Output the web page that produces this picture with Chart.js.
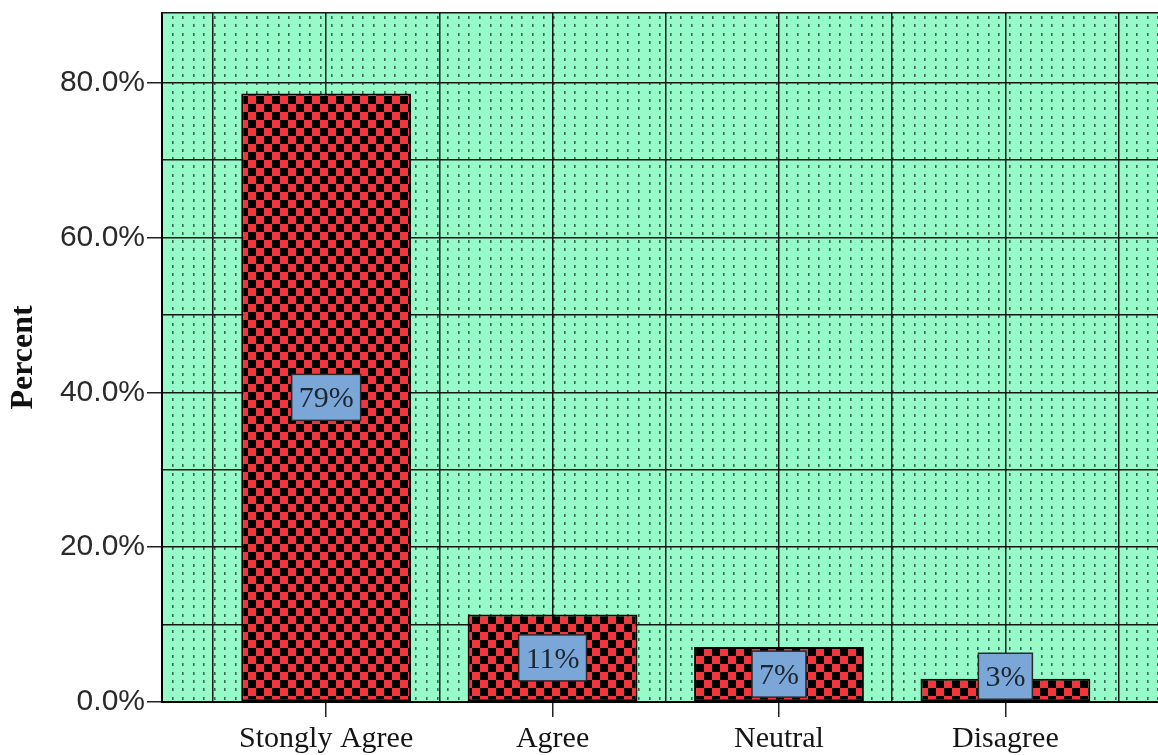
<!DOCTYPE html>
<html>
<head>
<meta charset="utf-8">
<script src="https://cdn.jsdelivr.net/npm/chart.js@4/dist/chart.umd.min.js"></script>
<style>
  html, body { margin: 0; padding: 0; background: #fff; overflow: hidden; }
  #wrap { position: relative; width: 1158px; height: 755px; overflow: hidden; }
  #wrap canvas { position: absolute; left: 0; top: 0; }
</style>
</head>
<body>
<div id="wrap"><canvas id="chart" width="1182" height="755"></canvas></div>
<script>
// Survey responses, share of respondents per answer
const categories = ['Stongly Agree', 'Agree', 'Neutral', 'Disagree'];
const percents = [78.6, 11.3, 7.1, 3.0];

// Value axis: grid every 10 %, labelled every 20 %
const yGridValues = [0, 10, 20, 30, 40, 50, 60, 70, 80];
const yLabelValues = [0, 20, 40, 60, 80];
const yMax = 89;

// Category axis: grid at every centre and half-way between categories
const xGridValues = [-0.5, 0, 0.5, 1, 1.5, 2, 2.5, 3, 3.5];

const MINT = '#97fbc9';
const DOT = 'rgba(30, 72, 52, 0.8)';

// red / black checkerboard fill for the bars
function checkerPattern(ctx) {
  const tile = document.createElement('canvas');
  tile.width = 16; tile.height = 16;
  const t = tile.getContext('2d');
  t.fillStyle = '#f2363c';
  t.fillRect(0, 0, 16, 16);
  t.fillStyle = '#000';
  t.fillRect(0, 0, 8, 8);
  t.fillRect(8, 8, 8, 8);
  return ctx.createPattern(tile, 'repeat');
}

// mint plot background with fine dotted vertical hatching
const plotBackground = {
  id: 'plotBackground',
  beforeDraw(chart) {
    const { ctx, chartArea: a } = chart;
    ctx.save();
    ctx.fillStyle = MINT;
    ctx.fillRect(a.left, a.top, a.right - a.left, a.bottom - a.top);
    ctx.fillStyle = DOT;
    for (let x = a.left + 9.5; x < a.right; x += 10.6) {
      const px = Math.round(x);
      for (let y = a.top + 3; y < a.bottom - 2; y += 8.3) {
        ctx.fillRect(px, Math.round(y), 1.6, 3);
      }
    }
    ctx.restore();
  }
};

// boxed percentage labels centred on each bar, kept inside the plot
const valueBoxes = {
  id: 'valueBoxes',
  afterDatasetsDraw(chart) {
    const { ctx } = chart;
    const meta = chart.getDatasetMeta(0);
    ctx.save();
    ctx.font = '30px "Liberation Serif", "Times New Roman", serif';
    ctx.textAlign = 'center';
    ctx.textBaseline = 'middle';
    meta.data.forEach((bar, i) => {
      const text = Math.round(percents[i]) + '%';
      const w = ctx.measureText(text).width + 14;
      const h = 46;
      const mid = (bar.y + bar.base) / 2;
      const bottom = Math.min(mid + h / 2, bar.base - 2);
      const top = bottom - h;
      const left = bar.x - w / 2;
      ctx.fillStyle = '#7ba7d8';
      ctx.fillRect(left, top, w, h);
      ctx.lineWidth = 1.5;
      ctx.strokeStyle = '#2b2b2b';
      ctx.strokeRect(left, top, w, h);
      ctx.fillStyle = '#1d2530';
      ctx.fillText(text, bar.x, top + h / 2 + 2);
    });
    ctx.restore();
  }
};

const canvas = document.getElementById('chart');
const c2d = canvas.getContext('2d');

new Chart(c2d, {
  type: 'bar',
  data: {
    datasets: [{
      data: percents.map((v, i) => ({ x: i, y: v })),
      backgroundColor: checkerPattern(c2d),
      borderColor: '#000',
      borderWidth: 2,
      borderSkipped: false,
      // bar sizing is measured against the half-category grid step
      categoryPercentage: 1,
      barPercentage: 1.5
    }]
  },
  options: {
    responsive: false,
    animation: false,
    layout: { padding: { top: 13, left: 0, right: 0, bottom: 0 } },
    plugins: {
      legend: { display: false },
      tooltip: { enabled: false }
    },
    scales: {
      x: {
        type: 'linear',
        offset: false,
        min: -0.725,
        max: 3.78,
        afterBuildTicks(scale) {
          scale.ticks = xGridValues.map(v => ({ value: v }));
        },
        afterFit(scale) {
          scale.height = 53;
          scale.paddingLeft = 0;
          scale.paddingRight = 0;
        },
        grid: {
          offset: false,
          color: '#161616',
          lineWidth: 1.5,
          tickLength: 15,
          tickColor: ctx => (ctx.tick && Number.isInteger(ctx.tick.value)) ? '#222' : 'rgba(0,0,0,0)'
        },
        border: { display: true, color: '#000', width: 2 },
        ticks: {
          autoSkip: false,
          maxRotation: 0,
          padding: 4,
          color: '#151515',
          font: { family: '"Liberation Serif", "Times New Roman", serif', size: 30 },
          callback: v => (Number.isInteger(v) && categories[v] !== undefined) ? categories[v] : ''
        }
      },
      y: {
        type: 'linear',
        min: 0,
        max: yMax,
        afterBuildTicks(scale) {
          scale.ticks = yGridValues.concat([yMax]).map(v => ({ value: v }));
        },
        afterFit(scale) {
          scale.width = 162;
          scale.paddingTop = 0;
          scale.paddingBottom = 0;
        },
        grid: {
          color: '#161616',
          lineWidth: 1.5,
          tickLength: 15,
          tickColor: ctx => (ctx.tick && yLabelValues.includes(ctx.tick.value)) ? '#222' : 'rgba(0,0,0,0)'
        },
        border: { display: true, color: '#000', width: 2 },
        ticks: {
          padding: 2,
          color: '#2a2a2a',
          font: { family: '"Liberation Sans", Arial, sans-serif', size: 30 },
          callback: v => yLabelValues.includes(v) ? v.toFixed(1) + '%' : ''
        },
        title: {
          display: true,
          text: 'Percent',
          color: '#111',
          padding: { top: 5, bottom: 0 },
          font: { family: '"Liberation Serif", "Times New Roman", serif', size: 32, weight: 'bold' }
        }
      }
    }
  },
  plugins: [plotBackground, valueBoxes]
});
</script>
</body>
</html>
